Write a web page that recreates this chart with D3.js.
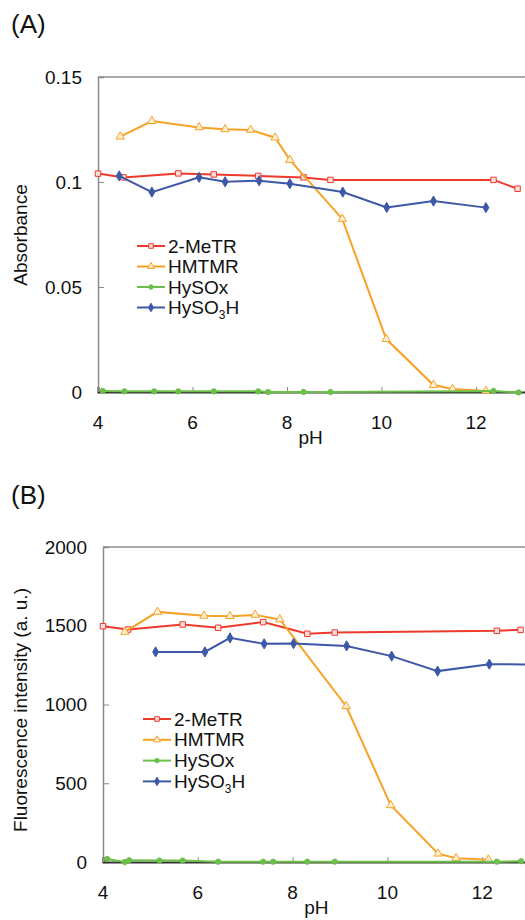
<!DOCTYPE html>
<html>
<head>
<meta charset="utf-8">
<script src="https://cdn.jsdelivr.net/npm/d3@7"></script>
<style>
  body { margin: 0; background: #fff; }
  text { font-family: "Liberation Sans", Arial, sans-serif; fill: #111; }
</style>
</head>
<body>
<svg id="chart"></svg>
<script>
// ---- data ----
var seriesNames = ["2-MeTR", "HMTMR", "HySOx", "HySO3H"];
var pHTicks = [4, 6, 8, 10, 12];
var absTicks = [0, 0.05, 0.1, 0.15];
var absTickLabels = ["0", "0.05", "0.1", "0.15"];
var fluTicks = [0, 500, 1000, 1500, 2000];

// panel A: absorbance, [pH, value]
var absMeTR = [[4.0, 0.104], [4.54, 0.1022], [5.70, 0.1041], [6.45, 0.1036], [7.39, 0.1029],
  [8.35, 0.1022], [8.92, 0.1010], [12.37, 0.1010], [12.88, 0.0968]];
var absHMTMR = [[4.47, 0.1216], [5.14, 0.129], [6.14, 0.126], [6.69, 0.1251], [7.23, 0.1248],
  [7.75, 0.1211], [8.06, 0.1105], [9.17, 0.0824], [10.10, 0.0252], [11.10, 0.0033],
  [11.50, 0.0014], [12.21, 0.0005]];
var absHySOx = [[4.1, 0.0005], [4.56, 0.0003], [5.19, 0.0003], [5.70, 0.0003], [6.45, 0.0003],
  [7.39, 0.0003], [7.60, 0.0], [8.35, 0.0], [8.92, 0.0], [12.37, 0.0005], [12.9, -0.0002]];
var absHySO3H = [[4.45, 0.1029], [5.14, 0.0952], [6.14, 0.1022], [6.69, 0.1001], [7.41, 0.1006],
  [8.06, 0.0992], [9.18, 0.0952], [10.11, 0.0879], [11.10, 0.0909], [12.21, 0.0878]];

// panel B: fluorescence intensity, [pH, value]
var fluMeTR = [[4.0, 1497], [4.53, 1476], [5.68, 1508], [6.43, 1487], [7.38, 1523],
  [8.31, 1449], [8.89, 1457], [12.31, 1468], [12.81, 1474]];
var fluHMTMR = [[4.46, 1461], [5.15, 1588], [6.13, 1563], [6.68, 1561], [7.21, 1569],
  [7.73, 1540], [9.13, 989], [10.07, 360], [11.07, 53], [11.45, 24], [12.13, 15]];
var fluHySOx = [[4.09, 19], [4.46, 0], [4.55, 11], [5.19, 9], [5.68, 9], [6.43, 2], [7.38, 2],
  [7.59, 2], [8.31, 2], [8.89, 2], [12.31, 2], [12.82, 5]];
var fluHySO3H = [[5.11, 1334], [6.15, 1334], [6.68, 1423], [7.40, 1385], [8.02, 1387],
  [9.14, 1372], [10.09, 1307], [11.06, 1212], [12.15, 1256], [13.2, 1254]];

var colors = ["#ee3a2c", "#f7a125", "#6cc04a", "#3d58a7"];
var fills = ["#fde0dc", "#fff0d6", "#6cc04a", "#3d58a7"];
var symbols = [d3.symbolSquare, d3.symbolTriangle, d3.symbolCircle, d3.symbolDiamond];
var symSizes = [30, 30, 22, 30];
var fs = 19;

var W = 525, H = 920;
var svg = d3.select('#chart').attr('width', W).attr('height', H);

function drawPanel(opt) {
  var g = svg.append('g');
  var x = d3.scaleLinear().domain([4, 14]).range([opt.left, opt.left + opt.perPH * 10]);
  var y = d3.scaleLinear().domain([0, opt.ymax]).range([opt.bottom, opt.top]);

  // top border
  g.append('line')
    .attr('x1', opt.left).attr('x2', W).attr('y1', opt.top).attr('y2', opt.top)
    .attr('stroke', '#555').attr('stroke-width', 1);

  var yAxis = g.append('g')
    .attr('transform', 'translate(' + opt.left + ',0)')
    .call(d3.axisRight(y).tickValues(opt.yTicks).tickSize(6).tickFormat(''));
  yAxis.select('.domain').attr('stroke', '#8a8a8a').attr('stroke-width', 1.5);
  yAxis.selectAll('.tick line').attr('stroke', '#8a8a8a');
  g.selectAll('.ylab').data(opt.yTicks).enter().append('text')
    .attr('x', opt.left - 16).attr('y', function(d) { return y(d); })
    .attr('dy', '0.35em').attr('text-anchor', 'end').attr('font-size', fs)
    .text(function(d, i) { return opt.yLabels[i]; });

  var xAxis = g.append('g')
    .attr('transform', 'translate(0,' + opt.bottom + ')')
    .call(d3.axisTop(x).tickValues(pHTicks).tickSize(5).tickFormat(''));
  xAxis.select('.domain').attr('stroke', '#333').attr('stroke-width', 2);
  xAxis.selectAll('.tick line').attr('stroke', '#8a8a8a');
  g.selectAll('.xlab').data(pHTicks).enter().append('text')
    .attr('x', function(d) { return x(d); }).attr('y', opt.bottom + opt.xLabGap)
    .attr('dy', '0.35em').attr('text-anchor', 'middle').attr('font-size', fs)
    .text(function(d) { return d; });

  g.append('text')
    .attr('x', x(8.5)).attr('y', opt.bottom + opt.xLabGap + 15)
    .attr('dy', '0.35em').attr('text-anchor', 'middle').attr('font-size', fs)
    .text('pH');

  g.append('text')
    .attr('transform', 'translate(' + opt.yTitleX + ',' + opt.yTitleY + ') rotate(-90)')
    .attr('dy', '0.35em').attr('text-anchor', 'middle').attr('font-size', fs)
    .text(opt.yTitle);

  g.append('text')
    .attr('x', 11).attr('y', opt.panelY).attr('dy', '0.35em')
    .attr('font-size', 26).text(opt.panelLabel);

  var line = d3.line().x(function(d) { return x(d[0]); }).y(function(d) { return y(d[1]); });
  var order = [0, 1, 3, 2];
  order.forEach(function(i) {
    var s = opt.series[i];
    g.append('path').datum(s).attr('d', line)
      .attr('fill', 'none').attr('stroke', colors[i]).attr('stroke-width', 2);
    g.selectAll('.m' + i).data(s).enter().append('path')
      .attr('transform', function(d) { return 'translate(' + x(d[0]) + ',' + y(d[1]) + ')'; })
      .attr('d', d3.symbol().type(symbols[i]).size(symSizes[i]))
      .attr('fill', fills[i]).attr('stroke', colors[i]).attr('stroke-width', 1);
  });

  // legend
  var leg = g.append('g');
  seriesNames.forEach(function(name, i) {
    var ly = opt.legY + i * opt.legStep;
    leg.append('line')
      .attr('x1', opt.legX).attr('x2', opt.legX + 28).attr('y1', ly).attr('y2', ly)
      .attr('stroke', colors[i]).attr('stroke-width', 2);
    leg.append('path')
      .attr('transform', 'translate(' + (opt.legX + 14) + ',' + ly + ')')
      .attr('d', d3.symbol().type(symbols[i]).size(symSizes[i] * 0.7))
      .attr('fill', fills[i]).attr('stroke', colors[i]).attr('stroke-width', 1);
    var t = leg.append('text')
      .attr('x', opt.legX + 31).attr('y', ly).attr('dy', '0.35em').attr('font-size', fs);
    if (name === 'HySO3H') {
      t.append('tspan').text('HySO');
      t.append('tspan').attr('font-size', 12).attr('dy', 5).text('3');
      t.append('tspan').attr('dy', -5).text('H');
    } else {
      t.text(name);
    }
  });
}

drawPanel({
  left: 98, perPH: 47.25, top: 77, bottom: 392, ymax: 0.15,
  yTicks: absTicks, yLabels: absTickLabels, xLabGap: 30,
  yTitle: 'Absorbance', yTitleX: 20, yTitleY: 235,
  panelLabel: '(A)', panelY: 24,
  series: [absMeTR, absHMTMR, absHySOx, absHySO3H],
  legX: 137, legY: 246, legStep: 20.5
});

drawPanel({
  left: 103, perPH: 47.4, top: 547, bottom: 862, ymax: 2000,
  yTicks: fluTicks, yLabels: fluTicks.map(String), xLabGap: 30,
  yTitle: 'Fluorescence intensity (a. u.)', yTitleX: 20, yTitleY: 710,
  panelLabel: '(B)', panelY: 495,
  series: [fluMeTR, fluHMTMR, fluHySOx, fluHySO3H],
  legX: 143, legY: 719, legStep: 20.8
});
</script>
</body>
</html>
